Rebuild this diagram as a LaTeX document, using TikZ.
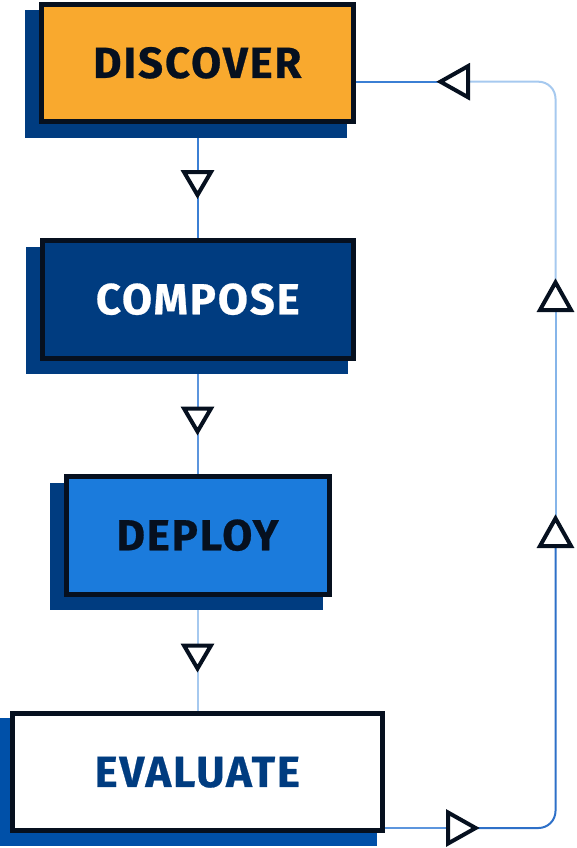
\documentclass[tikz,border=0pt]{standalone}
\usepackage{fontspec}
\usetikzlibrary{backgrounds}
\newfontfamily\lblfont{Fira Sans}[LetterSpace=4.5, BoldFeatures={FakeBold=0.6}]
\definecolor{orangefill}{HTML}{F9A92E}
\definecolor{navy}{HTML}{003C80}
\definecolor{deployfill}{HTML}{1B7BDC}
\definecolor{evalshadow}{HTML}{0050A8}
\definecolor{ink}{HTML}{06101F}
\definecolor{lnA}{HTML}{3B7FD4}
\definecolor{lnB}{HTML}{5C95DD}
\definecolor{lnC}{HTML}{A6C9EF}
\definecolor{lnD}{HTML}{2E70C8}
\definecolor{lnE}{HTML}{86B5E9}
\begin{document}
\begin{tikzpicture}[x=1pt,y=-1pt,
  stage/.style={draw=ink, line width=5pt, minimum height=117.5pt, inner sep=0pt,
    text height=30pt, text depth=0pt,
    font=\lblfont\bfseries\fontsize{43.5}{43.5}\selectfont},
  conn/.style={line width=2pt},
  tri/.pic={\draw[ink, line width=4pt, fill=white, line join=miter]
     (-13.5,-12.5) -- (13.5,-12.5) -- (0,10.5) -- cycle;},
  sidetri/.style={xscale=1.15, yscale=1.2}
]
\useasboundingbox (0,0) rectangle (576,848);

% boxes
\node[stage, fill=orangefill, text=ink, minimum width=312pt] (d) at (197.3,62.9) {DISCOVER};
\node[stage, fill=navy, text=white, minimum width=311.5pt] (c) at (197.8,299.3) {COMPOSE};
\node[stage, fill=deployfill, text=ink, minimum width=263pt] (p) at (197.6,535.3) {DEPLOY};
\node[stage, fill=white, text=navy, minimum width=369.5pt] (e) at (197.3,771.9) {EVALUATE};

% coordinates
\coordinate (tr) at (555.5,81.7);
\coordinate (br) at (555.5,828);
\coordinate (a1) at (197.5,184.5);
\coordinate (a2) at (197.5,421);
\coordinate (a3) at (197.5,658);
\coordinate (al) at (453,81.7);
\coordinate (au1) at (555.5,295);
\coordinate (au2) at (555.5,531);
\coordinate (ar) at (463,828);

\begin{scope}[on background layer]
% connectors
\draw[conn, lnA] (d.south -| a1) -- (a1);
\draw[conn, lnA] (a1) -- (c.north -| a1);
\draw[conn, lnB] (c.south -| a2) -- (a2);
\draw[conn, lnB] (a2) -- (p.north -| a2);
\draw[conn, lnC] (p.south -| a3) -- (a3);
\draw[conn, lnC] (a3) -- (e.north -| a3);
\draw[conn, lnB] (e.east |- br) -- (ar);
\draw[conn, lnD, rounded corners=17pt] (ar) -- (br) -- (au2);
\draw[conn, lnE] (au2) -- (au1);
\draw[conn, lnC, rounded corners=17pt] (au1) -- (tr) -- (al);
\draw[conn, lnA] (al) -- (d.east |- tr);
% shadows
\fill[navy] ([shift={(-13.5pt,-8.5pt)}]d.north west) rectangle ([shift={(-8.5pt,-13.5pt)}]d.south east);
\fill[navy] ([shift={(-13.5pt,-8.5pt)}]c.north west) rectangle ([shift={(-8.5pt,-13.5pt)}]c.south east);
\fill[navy] ([shift={(-13.5pt,-8.5pt)}]p.north west) rectangle ([shift={(-8.5pt,-13.5pt)}]p.south east);
\fill[evalshadow] ([shift={(-12pt,-7pt)}]e.north west) rectangle ([shift={(-7.5pt,-12.5pt)}]e.south east);
\end{scope}

% arrow markers
\pic at (a1) {tri};
\pic at (a2) {tri};
\pic at (a3) {tri};
\pic[rotate=-90, sidetri] at (al) {tri};
\pic[rotate=180, sidetri] at (au1) {tri};
\pic[rotate=180, sidetri] at (au2) {tri};
\pic[rotate=90, sidetri] at (ar) {tri};
\end{tikzpicture}
\end{document}
